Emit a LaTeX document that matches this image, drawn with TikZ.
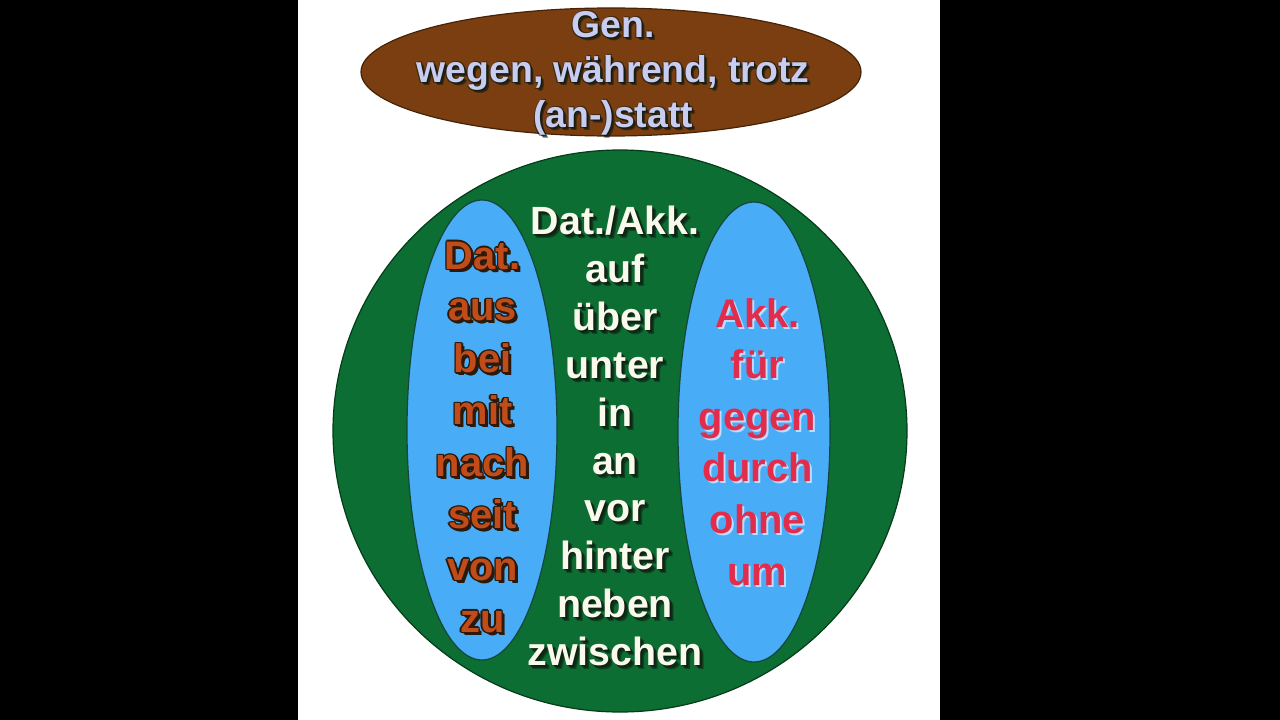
\documentclass[tikz,border=0pt]{standalone}
\usepackage{fontspec}
\setmainfont{Liberation Sans}
\definecolor{brownfill}{RGB}{122,62,16}
\definecolor{brownline}{RGB}{70,35,8}
\definecolor{greenfill}{RGB}{12,110,50}
\definecolor{greenline}{RGB}{5,60,25}
\definecolor{bluefill}{RGB}{72,172,246}
\definecolor{blueline}{RGB}{20,70,60}
\definecolor{gentext}{RGB}{200,204,240}
\definecolor{dattext}{RGB}{192,76,26}
\definecolor{datline}{RGB}{45,25,10}
\definecolor{akktext}{RGB}{226,44,76}
\definecolor{akkshadow}{RGB}{190,220,250}
\definecolor{midtext}{RGB}{250,250,236}
\definecolor{darkshadow}{RGB}{15,25,15}
\begin{document}
\begin{tikzpicture}[x=1bp,y=-1bp,
  word/.style={anchor=base,inner sep=0pt,outer sep=0pt},
  gentxt/.style={word,font=\bfseries\fontsize{37.5}{44}\selectfont,text=gentext},
  midtxt/.style={word,font=\bfseries\fontsize{39.5}{47}\selectfont,text=midtext},
  dattxt/.style={word,font=\bfseries\fontsize{40}{48}\selectfont,text=dattext},
  akktxt/.style={word,font=\bfseries\fontsize{40}{48}\selectfont,text=akktext}]
\useasboundingbox (0,0) rectangle (1280,720);
\fill[black] (0,0) rectangle (1280,720);
\fill[white] (298,0) rectangle (940,720);
% shapes
\filldraw[fill=brownfill,draw=brownline,line width=1.2] (611,72) ellipse [x radius=250,y radius=64];
\filldraw[fill=greenfill,draw=greenline,line width=1.2] (620,431) ellipse [x radius=287,y radius=281];
\filldraw[fill=bluefill,draw=blueline,line width=1.2] (482,430) ellipse [x radius=75,y radius=230];
\filldraw[fill=bluefill,draw=blueline,line width=1.2] (754,432) ellipse [x radius=76,y radius=230];
% Gen. block
\foreach \w [count=\i from 0] in {Gen.,{wegen, während, trotz},(an-)statt}{
  \pgfmathsetmacro{\yy}{38+\i*45}
  \foreach \dx/\dy in {1/1,2/2,3/3,-1/1,1/-1}
    \node[gentxt,text=darkshadow,opacity=0.55] at (613+\dx,\yy+\dy) {\w};
  \node[gentxt] (g\i) at (613,\yy) {\w};
}
% middle column
\foreach \w [count=\i from 0] in {Dat./Akk.,auf,über,unter,in,an,vor,hinter,neben,zwischen}{
  \pgfmathsetmacro{\yy}{235+\i*47.8}
  \foreach \dx/\dy in {1/1,2/2,3/3,4/4}
    \node[midtxt,text=darkshadow,opacity=0.45] at (615+\dx,\yy+\dy) {\w};
  \node[midtxt] (m\i) at (615,\yy) {\w};
}
% left column
\foreach \w [count=\i from 0] in {Dat.,aus,bei,mit,nach,seit,von,zu}{
  \pgfmathsetmacro{\yy}{269+\i*51.9}
  \foreach \dx/\dy in {-1.5/0,1.5/0,0/-1.5,0/1.5,-1/-1,1/1,-1/1,1/-1,2.5/2.5,3/3}
    \node[dattxt,text=datline] at (482.5+\dx,\yy+\dy) {\w};
  \node[dattxt] (d\i) at (482.5,\yy) {\w};
}
% right column
\foreach \w [count=\i from 0] in {Akk.,für,gegen,durch,ohne,um}{
  \pgfmathsetmacro{\yy}{327+\i*51.6}
  \node[akktxt,text=akkshadow] at (757.5+2,\yy+2) {\w};
  \node[akktxt] (a\i) at (757.5,\yy) {\w};
}
\end{tikzpicture}
\end{document}
